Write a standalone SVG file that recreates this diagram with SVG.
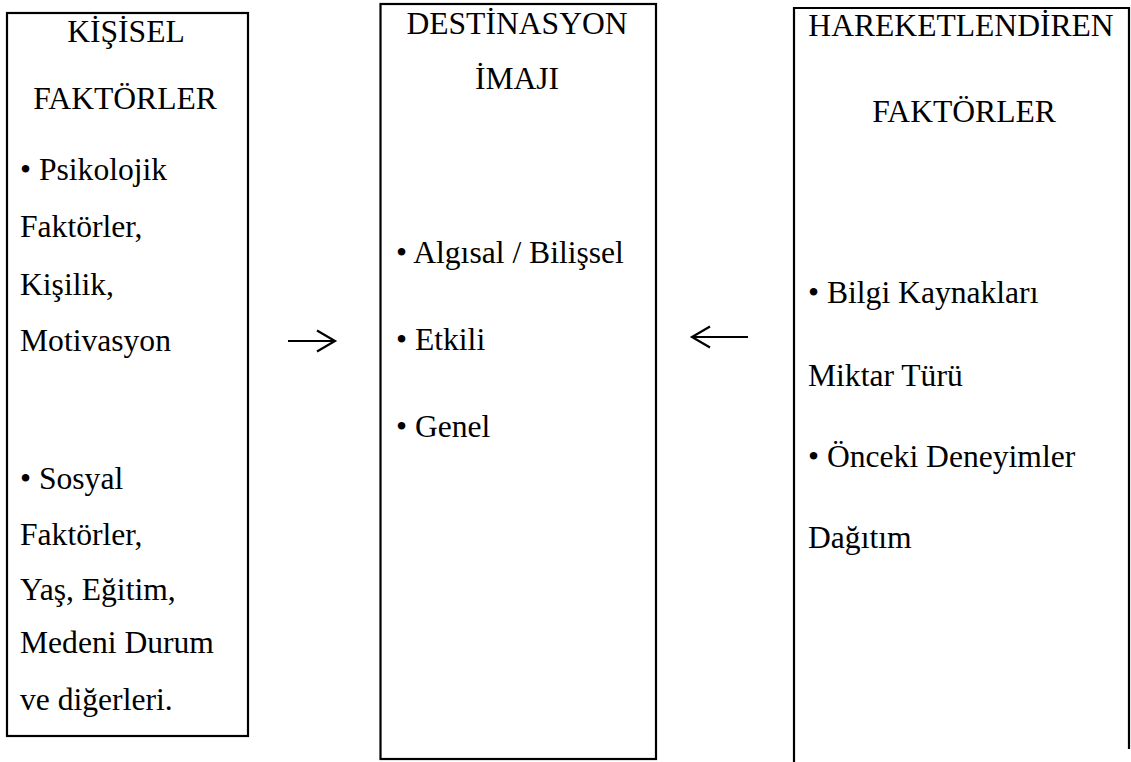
<svg xmlns="http://www.w3.org/2000/svg" width="1131" height="762" viewBox="0 0 1131 762">
<style>
  .box { fill: none; stroke: #000; stroke-width: 2.2; }
  .t { font-family: "Liberation Serif", "Times New Roman", serif; font-size: 31.6px; fill: #000; }
  .c { text-anchor: middle; }
  .conn { stroke: #000; stroke-width: 2.2; fill: none; }
</style>
<defs>
  <marker id="head" markerUnits="userSpaceOnUse" markerWidth="24" markerHeight="26" refX="20" refY="12" orient="auto">
    <path d="M2,1.5 L20,12 L2,22.5" fill="none" stroke="#000" stroke-width="2.2"/>
  </marker>
</defs>
<rect width="1131" height="762" fill="#fff"/>

<g id="kisisel">
  <rect class="box" x="7" y="13" width="241" height="723"/>
  <text class="t c" x="126" y="42">KİŞİSEL</text>
  <text class="t c" x="125" y="109">FAKTÖRLER</text>
  <text class="t" x="20" y="180">• Psikolojik</text>
  <text class="t" x="20" y="237">Faktörler,</text>
  <text class="t" x="20" y="295">Kişilik,</text>
  <text class="t" x="20" y="351">Motivasyon</text>
  <text class="t" x="20" y="489">• Sosyal</text>
  <text class="t" x="20" y="545">Faktörler,</text>
  <text class="t" x="20" y="600">Yaş, Eğitim,</text>
  <text class="t" x="20" y="653">Medeni Durum</text>
  <text class="t" x="20" y="710">ve diğerleri.</text>
</g>

<g id="destinasyon">
  <rect class="box" x="380.5" y="4" width="275.5" height="755"/>
  <text class="t c" x="517" y="34">DESTİNASYON</text>
  <text class="t c" x="517" y="89">İMAJI</text>
  <text class="t" x="396" y="263">• Algısal / Bilişsel</text>
  <text class="t" x="396" y="350">• Etkili</text>
  <text class="t" x="396" y="437">• Genel</text>
</g>

<g id="hareketlendiren">
  <path class="box" d="M794,762 V8 H1129 V749"/>
  <text class="t c" x="961" y="36">HAREKETLENDİREN</text>
  <text class="t c" x="964" y="122">FAKTÖRLER</text>
  <text class="t" x="808" y="303">• Bilgi Kaynakları</text>
  <text class="t" x="808" y="386">Miktar Türü</text>
  <text class="t" x="808" y="467">• Önceki Deneyimler</text>
  <text class="t" x="808" y="548">Dağıtım</text>
</g>

<g id="connectors">
  <path class="conn" d="M288,341 H335" marker-end="url(#head)"/>
  <path class="conn" d="M748,337 H692" marker-end="url(#head)"/>
</g>
</svg>
